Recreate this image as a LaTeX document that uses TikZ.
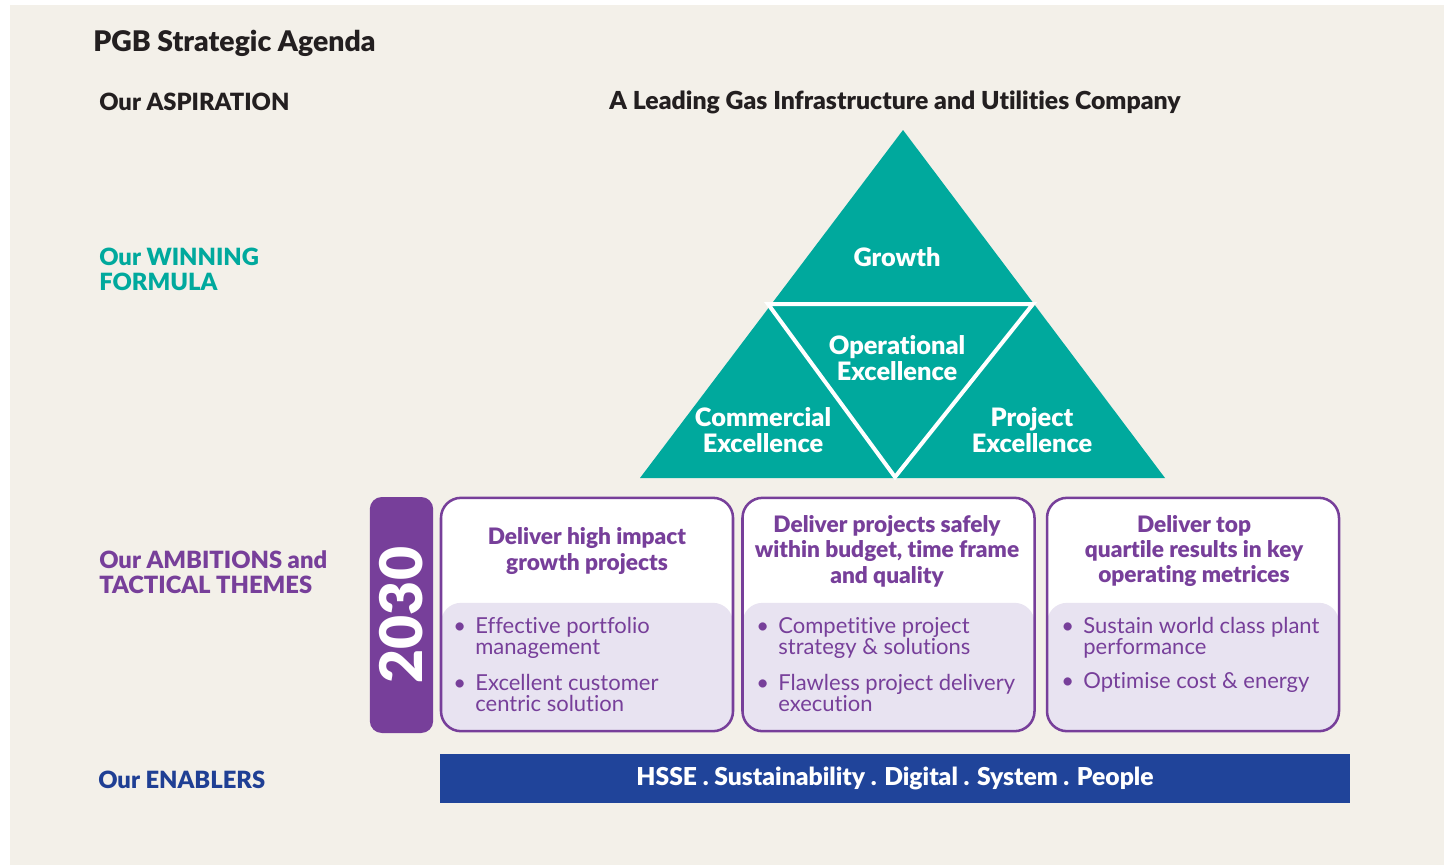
\documentclass[tikz,border=0pt]{standalone}
\usepackage{fontspec}
\setmainfont{Lato}[BoldFont={Lato Black}, Ligatures=NoCommon]
\usetikzlibrary{positioning}

\definecolor{pgbbeige}{HTML}{F3F0E9}
\definecolor{pgbteal}{HTML}{00A99D}
\definecolor{pgbpurple}{HTML}{773F9A}
\definecolor{pgblav}{HTML}{E8E3F1}
\definecolor{pgbblue}{HTML}{20449A}
\definecolor{pgbnavy}{HTML}{1F3F94}
\definecolor{pgbink}{HTML}{231F20}

\newcommand{\bul}{\textbullet\hspace{7pt}}
\newcommand{\nobul}{\phantom{\textbullet}\hspace{7pt}}

\begin{document}
\begin{tikzpicture}
          [x=0.75pt, y=-0.75pt,
          label text/.style={anchor=west, inner sep=0pt, align=left, font=\bfseries\fontsize{17.8}{18.75}\selectfont},
          wedge text/.style={text=white, inner sep=0pt, align=center, font=\bfseries\fontsize{19}{19.5}\selectfont},
          yearbox/.style={fill=pgbpurple, rounded corners=9pt, rotate=90, minimum width=177pt, minimum height=47.5pt,
              inner sep=0pt, text=white, font=\bfseries\fontsize{44}{44}\selectfont},
          ambition/.style={draw=pgbpurple, line width=1.9pt, rounded corners=15pt, fill=white,
              minimum width=219pt, minimum height=175pt,
              path picture={\fill[pgblav] (path picture bounding box.south west) rectangle ([yshift=-78.75pt]path picture bounding box.north east);}},
          ambhead/.style={text=pgbpurple, inner sep=0pt, align=center, font=\bfseries\fontsize{17}{19}\selectfont},
          itemtext/.style={anchor=west, text=pgbpurple, inner sep=0pt, align=left, font=\fontsize{16.5}{15.75}\selectfont},
          enabler/.style={fill=pgbblue, minimum width=682.5pt, minimum height=36.75pt, text=white,
              font=\bfseries\fontsize{18.5}{18.5}\selectfont}]

          \useasboundingbox (0,0) rectangle (1444,865);
          \fill[pgbbeige] (10,5) rectangle (1444,865);

          % row labels
          \node [label text, text=pgbink, font=\bfseries\fontsize{21.3}{22}\selectfont] (title) at (93,43) {PGB Strategic Agenda};
          \node [label text, text=pgbink] (aspiration) at (99,102) {Our ASPIRATION};
          \node [label text, text=pgbteal] (formula) at (99,269.5) {Our WINNING\\FORMULA};
          \node [label text, text=pgbpurple] (ambitions) at (99,572) {Our AMBITIONS and\\TACTICAL THEMES};
          \node [label text, text=pgbnavy] (enablers) at (98,780) {Our ENABLERS};
          \node [inner sep=0pt, text=pgbink, font=\bfseries\fontsize{18.6}{18.75}\selectfont] (company) at (895,102) {A Leading Gas Infrastructure and Utilities Company};

          % winning formula triangle
          \coordinate (apex) at (903,130);
          \coordinate (baseL) at (640,478);
          \coordinate (baseR) at (1165,478);
          \coordinate (midL) at (768,304);
          \coordinate (midR) at (1033,304);
          \coordinate (midB) at (895,477);
          \fill [pgbteal] (apex) -- (baseR) -- (baseL) -- cycle;
          \draw [white, line width=3pt, line join=miter] (midL) -- (midR) -- (midB) -- cycle;

          \node [wedge text] (growth) at (897,257) {Growth};
          \node [wedge text] (operational) at (897,358) {Operational\\Excellence};
          \node [wedge text] (commercial) at (763,430) {Commercial\\Excellence};
          \node [wedge text] (project) at (1032,430) {Project\\Excellence};

          % ambitions
          \node [yearbox] (year) at (401.5,615) {2030};

          \node [ambition] (amb1) at (587,614.5) {};
          \node [ambition] (amb2) at (888.5,614.5) {};
          \node [ambition] (amb3) at (1193,614.5) {};

          \node [ambhead] (head1) at (587,551) {Deliver high impact\\growth projects};
          \node [ambhead] (head2) at (887,551) {Deliver projects safely\\within budget, time frame\\and quality};
          \node [ambhead] (head3) at (1194,551) {Deliver top\\quartile results in key\\operating metrices};

          \node [itemtext] (item1a) at (453,638) {\bul Effective portfolio\\\nobul management};
          \node [itemtext] (item1b) at (453,692.5) {\bul Excellent customer\\\nobul centric solution};
          \node [itemtext] (item2a) at (756,638) {\bul Competitive project\\\nobul strategy \& solutions};
          \node [itemtext] (item2b) at (756,692.5) {\bul Flawless project delivery\\\nobul execution};
          \node [itemtext] (item3a) at (1061,638) {\bul Sustain world class plant\\\nobul performance};
          \node [itemtext] (item3b) at (1061,682) {\bul Optimise cost \& energy};

          % enablers
          \node [enabler] (enablerbar) at (895,778.5) {\raisebox{-2pt}{HSSE . Sustainability . Digital . System . People}};
  \end{tikzpicture}
\end{document}
